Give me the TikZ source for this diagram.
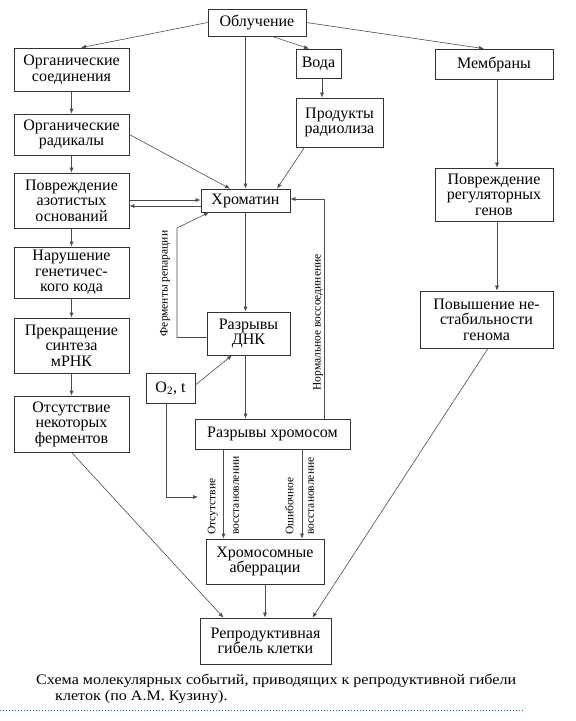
\documentclass[tikz,border=0pt]{standalone}
\usepackage{fontspec}
\setmainfont{Liberation Serif}
\usetikzlibrary{arrows.meta,calc}
\begin{document}
\begin{tikzpicture}[x=1pt,y=-1pt,
  box/.style={draw=black!80, line width=0.7pt, inner sep=0pt, align=center, font=\fontsize{16}{15.5}\selectfont},
  arr/.style={draw=black!70, line width=0.6pt, -{Latex[length=5pt,width=4pt]}},
  lab/.style={rotate=90, font=\fontsize{11.5}{11.5}\selectfont, inner sep=0pt},
  captext/.style={font=\fontsize{14.5}{15}\selectfont, inner sep=0pt, anchor=base west}]
\useasboundingbox (0,0) rectangle (576,721);
% boxes
\node[box, minimum width=98pt, minimum height=27pt] (obl) at (257,22.5) {Облучение};
\node[box, minimum width=115pt, minimum height=43pt] (orgsoed) at (71.5,69.5) {Органические\\соединения};
\node[box, minimum width=45pt, minimum height=29pt] (voda) at (318.5,63.5) {Вода};
\node[box, minimum width=118pt, minimum height=30pt] (membr) at (494,64) {Мембраны};
\node[box, minimum width=115pt, minimum height=41pt] (orgrad) at (71.5,134.5) {Органические\\радикалы};
\node[box, minimum width=87pt, minimum height=49pt] (prod) at (339.5,122.5) {Продукты\\радиолиза};
\node[box, minimum width=115pt, minimum height=55pt] (povazot) at (71.5,200.5) {Повреждение\\азотистых\\оснований};
\node[box, minimum width=89pt, minimum height=23pt] (chrom) at (245.5,200.5) {Хроматин};
\node[box, minimum width=118pt, minimum height=53pt] (povreg) at (494,194.5) {Повреждение\\регуляторных\\генов};
\node[box, minimum width=115pt, minimum height=51pt] (narush) at (71.5,272.5) {Нарушение\\генетичес-\\кого кода};
\node[box, minimum width=83pt, minimum height=43pt] (dnk) at (248.5,333.5) {Разрывы\\ДНК};
\node[box, minimum width=133pt, minimum height=57pt] (povysh) at (486.5,319.5) {Повышение не-\\стабильности\\генома};
\node[box, minimum width=115pt, minimum height=55pt] (prekr) at (71.5,345.5) {Прекращение\\синтеза\\мРНК};
\node[box, minimum width=49pt, minimum height=30pt] (o2) at (170.5,388) {O\textsubscript{2}, t};
\node[box, minimum width=115pt, minimum height=56pt] (otsut) at (71.5,424) {Отсутствие\\некоторых\\ферментов};
\node[box, minimum width=155pt, minimum height=30pt] (razchr) at (272.5,434) {Разрывы хромосом};
\node[box, minimum width=118pt, minimum height=45pt] (aber) at (265,561.5) {Хромосомные\\аберрации};
\node[box, minimum width=131pt, minimum height=46pt] (repr) at (265.5,641) {Репродуктивная\\гибель клетки};
% free coordinates
\coordinate (rep1) at (177,228);
\coordinate (ofree) at (198,497);
% connectors from Облучение
\draw[arr] (obl.west) -- ([xshift=9.5pt]orgsoed.north);
\draw[arr] (obl.east) -- ([xshift=-10pt]membr.north);
\draw[arr] ([xshift=15pt]obl.south) -- ([xshift=-9.5pt]voda.north);
\draw[arr] (chrom.north |- obl.south) -- (chrom.north);
% left column
\draw[arr] (orgsoed) -- (orgrad);
\draw[arr] (orgrad) -- (povazot);
\draw[arr] (povazot) -- (narush);
\draw[arr] (narush) -- (prekr);
\draw[arr] (prekr) -- (otsut);
% to chromatin
\draw[arr] (orgrad.east) -- ([xshift=-15.5pt]chrom.north);
\draw[arr] ([xshift=3.5pt]voda.south) -- ([xshift=3.5pt]voda.south |- prod.north);
\draw[arr] ([xshift=-35pt]prod.south) -- ([xshift=31.5pt]chrom.north);
\draw[arr] ([yshift=0.5pt]povazot.east) -- ([yshift=0.5pt]chrom.west);
\draw[arr] ([yshift=-5.5pt]chrom.west) -- ([yshift=-5.5pt]povazot.east);
% chromatin - DNA
\draw[arr] (chrom.south) -- (chrom.south |- dnk.north);
\draw[arr] ([yshift=-4pt]dnk.west) -| (rep1) -- ([xshift=-36.5pt]chrom.south);
\node[lab] (labrep) at (165,283.5) {Ферменты репарации};
\draw[arr] ([xshift=52pt]razchr.north) |- ([yshift=1.5pt]chrom.east);
\node[lab] (labnorm) at (318,322.5) {Нормальное воссоединение};
\draw[arr] (chrom.south |- dnk.south) -- (chrom.south |- razchr.north);
% O2, t
\draw[arr] ([yshift=3pt]o2.east) -- ([xshift=-16.5pt]dnk.south);
\draw[arr] ([xshift=-4.5pt]o2.south) |- (ofree);
% chromosome breaks
\draw[arr] ([xshift=-49pt]razchr.south) -- ([xshift=-49pt]razchr.south |- aber.north);
\draw[arr] ([xshift=29.5pt]razchr.south) -- ([xshift=29.5pt]razchr.south |- aber.north);
\node[lab, anchor=west] (l1) at (212.7,535) {Отсутствие};
\node[lab, anchor=west] (l2) at (236.3,535) {восстановлении};
\node[lab, anchor=west] (l3) at (289.3,535) {Ошибочное};
\node[lab, anchor=west] (l4) at (311.3,535) {восстановление};
% right column
\draw[arr] ([xshift=3pt]membr.south) -- ([xshift=3pt]membr.south |- povreg.north);
\draw[arr] ([xshift=3pt]povreg.south) -- ([xshift=3pt]povreg.south |- povysh.north);
% to reproductive death
\draw[arr] (aber.south) -- (aber.south |- repr.north);
\draw[arr] (otsut.south) -- ([xshift=-42pt]repr.north);
\draw[arr] ([xshift=1.5pt]povysh.south) -- ([xshift=47pt]repr.north);
% caption
\node[captext] (cap1) at (36,684) {\scalebox{1.11}[1]{Схема молекулярных событий, приводящих к репродуктивной гибели}};
\node[captext] (cap2) at (55,700.5) {\scalebox{1.11}[1]{клеток (по А.М. Кузину).}};
\draw[draw={rgb,255:red,40;green,90;blue,210}, line width=1pt, dotted] (0,710) -- (523,710);
\end{tikzpicture}
\end{document}
